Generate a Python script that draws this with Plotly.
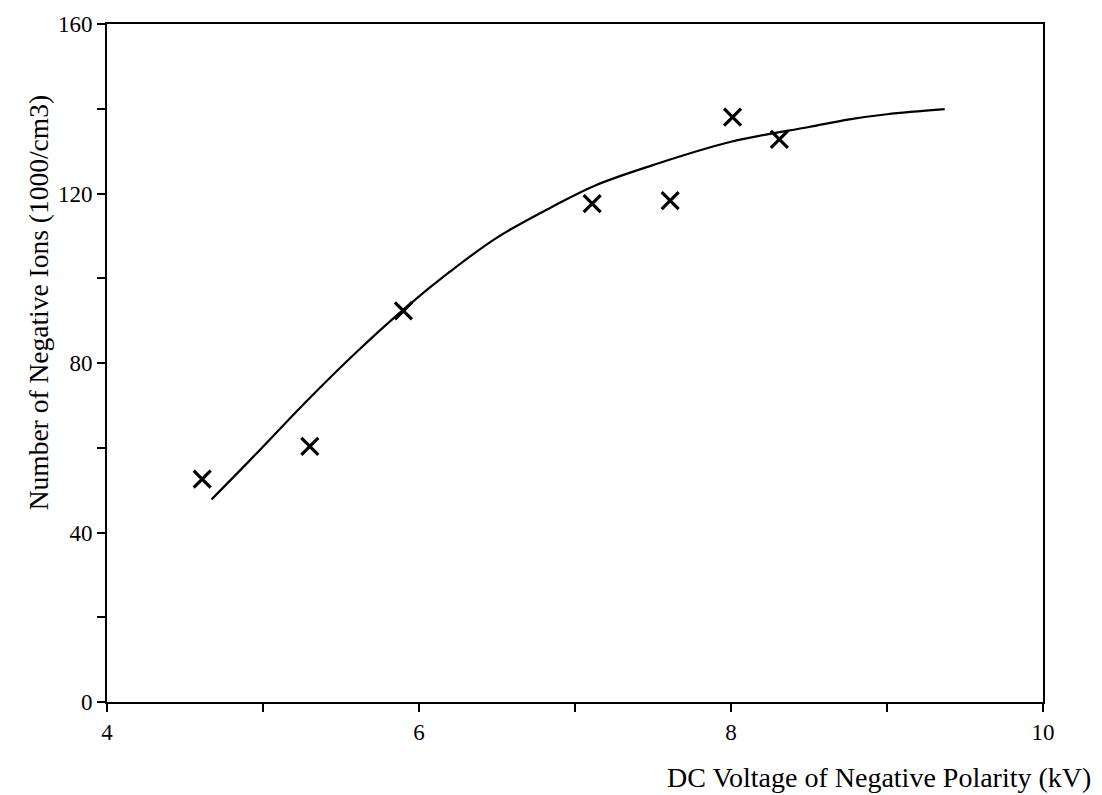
import plotly.graph_objects as go

# Measured data (crosses)
voltage_kv = [4.61, 5.30, 5.90, 7.11, 7.61, 8.01, 8.31]
ions_k = [52.6, 60.3, 92.3, 117.6, 118.3, 138.0, 132.8]

# Fitted curve
curve_x = [4.67, 4.92, 5.29, 5.60, 5.90, 6.20, 6.50, 6.84, 7.13, 7.50, 8.00, 8.50, 8.76, 9.00, 9.37]
curve_y = [47.8, 57.2, 71.4, 82.6, 92.6, 101.6, 109.6, 116.6, 121.9, 126.7, 132.2, 135.7, 137.5, 138.7, 139.9]

x_ticks = [4, 6, 8, 10]
y_ticks = [0, 40, 80, 120, 160]

fig = go.Figure()
fig.add_trace(go.Scatter(x=curve_x, y=curve_y, mode="lines",
                         line=dict(color="black", width=2.2, shape="spline"),
                         showlegend=False, hoverinfo="skip"))
fig.add_trace(go.Scatter(x=voltage_kv, y=ions_k, mode="markers",
                         marker=dict(symbol="x-thin", size=17,
                                     line=dict(width=3.2, color="black"), color="black"),
                         showlegend=False))

font_family = "Liberation Serif, Times New Roman, serif"
axis_common = dict(showline=True, linecolor="black", linewidth=2, mirror=True,
                   ticks="outside", ticklen=8, tickwidth=1.5, tickcolor="black",
                   showgrid=False, zeroline=False,
                   tickfont=dict(family=font_family, size=23, color="black"))

fig.update_xaxes(range=[4, 10], tickvals=x_ticks, ticktext=[str(v) for v in x_ticks],
                 minor=dict(dtick=1, ticks="outside", ticklen=8, tickcolor="black", tickwidth=1.5),
                 **axis_common)
fig.update_yaxes(range=[0, 160], tickvals=y_ticks, ticktext=[str(v) for v in y_ticks],
                 minor=dict(dtick=20, ticks="outside", ticklen=8, tickcolor="black", tickwidth=1.5),
                 **axis_common)

fig.add_annotation(text="DC Voltage of Negative Polarity (kV)", xref="paper", yref="paper",
                   x=1.053, y=-0.111, xanchor="right", yanchor="middle", showarrow=False,
                   font=dict(family=font_family, size=28, color="black"))
fig.add_annotation(text="Number of Negative Ions (1000/cm3)", xref="paper", yref="paper",
                   x=-0.0737, y=0.588, xanchor="center", yanchor="middle", textangle=-90,
                   showarrow=False, font=dict(family=font_family, size=27.5, color="black"))

fig.update_layout(width=1102, height=795, plot_bgcolor="white", paper_bgcolor="white",
                  margin=dict(l=107, r=59, t=24, b=93, pad=0))

fig.write_html("out.html")
